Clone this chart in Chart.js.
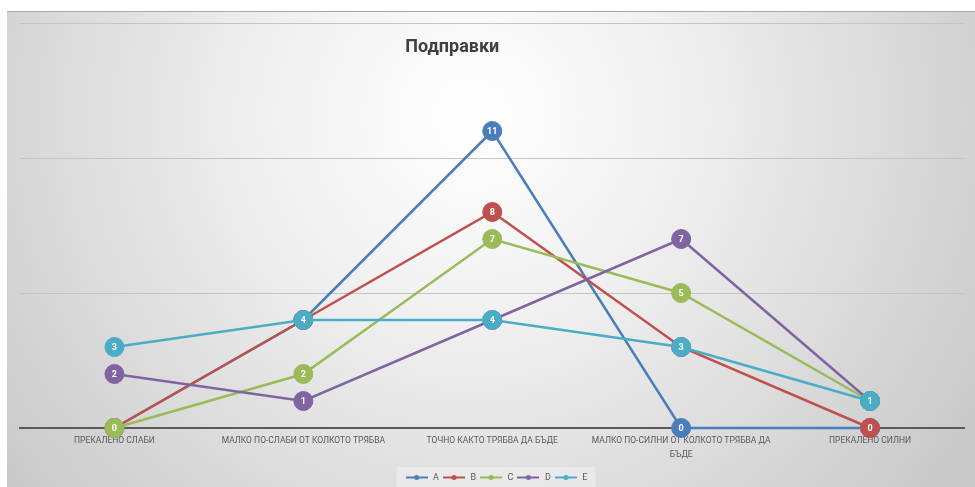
<!DOCTYPE html>
<html>
<head>
<meta charset="utf-8">
<script src="https://cdn.jsdelivr.net/npm/chart.js@4.4.1/dist/chart.umd.min.js"></script>
<style>
  html, body { margin: 0; padding: 0; background: #ffffff; overflow: hidden; }
  #wrap { position: absolute; left: 7px; top: 11px; width: 968px; height: 481px; }
</style>
</head>
<body>
<div id="wrap"><canvas id="chart"></canvas></div>
<script>
// Chart data
const categories = [
  "ПРЕКАЛЕНО СЛАБИ",
  "МАЛКО ПО-СЛАБИ ОТ КОЛКОТО ТРЯБВА",
  "ТОЧНО КАКТО ТРЯБВА ДА БЪДЕ",
  ["МАЛКО ПО-СИЛНИ ОТ КОЛКОТО ТРЯБВА ДА", "БЪДЕ"],
  "ПРЕКАЛЕНО СИЛНИ"
];
const seriesNames = ["A", "B", "C", "D", "E"];
const valuesA = [0, 4, 11, 0, 0];
const valuesB = [0, 4, 8, 3, 0];
const valuesC = [0, 2, 7, 5, 1];
const valuesD = [2, 1, 4, 7, 1];
const valuesE = [3, 4, 4, 3, 1];
const yTicks = [0, 5, 10, 15];
const chartTitle = "Подправки";

const colors = ["#4a7ebb", "#c0504d", "#9bbb59", "#8064a2", "#4bacc6"];
const allValues = [valuesA, valuesB, valuesC, valuesD, valuesE];

// small legend icons: line with a dot
function makeIcon(color) {
  const c = document.createElement("canvas");
  c.width = 22;
  c.height = 7;
  const g = c.getContext("2d");
  g.strokeStyle = color;
  g.lineWidth = 2;
  g.beginPath();
  g.moveTo(0, 3.5);
  g.lineTo(22, 3.5);
  g.stroke();
  g.fillStyle = color;
  g.beginPath();
  g.arc(11, 3.5, 2.5, 0, Math.PI * 2);
  g.fill();
  return c;
}
const icons = colors.map(makeIcon);

const bgPlugin = {
  id: "bg",
  beforeDraw(chart) {
    const ctx = chart.ctx;
    const w = chart.width, h = chart.height;
    ctx.save();
    const grad = ctx.createRadialGradient(w * 0.48, h * 0.22, 0, w * 0.48, h * 0.22, w * 0.62);
    grad.addColorStop(0, "#ffffff");
    grad.addColorStop(0.35, "#f0f0f0");
    grad.addColorStop(1, "#c8c8c8");
    ctx.fillStyle = grad;
    ctx.fillRect(0, 0, w, h);
    ctx.strokeStyle = "#a8a8a8";
    ctx.lineWidth = 1;
    ctx.beginPath();
    ctx.moveTo(0, 0.5);
    ctx.lineTo(w, 0.5);
    ctx.stroke();
    // faint legend backing
    const lg = chart.legend;
    if (lg && lg.legendHitBoxes && lg.legendHitBoxes.length) {
      const boxes = lg.legendHitBoxes;
      const x0 = boxes[0].left - 8;
      const x1 = boxes[boxes.length - 1].left + boxes[boxes.length - 1].width + 8;
      ctx.fillStyle = "rgba(255,255,255,0.3)";
      ctx.fillRect(x0, boxes[0].top - 6, x1 - x0, boxes[0].height + 12);
    }
    ctx.restore();
  },
  afterDraw(chart) {
    const ctx = chart.ctx;
    ctx.save();
    ctx.font = "bold 18px Roboto";
    ctx.fillStyle = "#404040";
    ctx.textAlign = "center";
    ctx.textBaseline = "middle";
    ctx.fillText(chartTitle, chart.width * 0.46, 36);
    ctx.restore();
  }
};

const labelPlugin = {
  id: "pointLabels",
  afterDatasetDraw(chart, args) {
    const ctx = chart.ctx;
    const data = chart.data.datasets[args.index].data;
    ctx.save();
    ctx.font = "bold 9px Roboto";
    ctx.fillStyle = "#ffffff";
    ctx.textAlign = "center";
    ctx.textBaseline = "middle";
    args.meta.data.forEach((pt, i) => {
      ctx.fillText(String(data[i]), pt.x, pt.y + 0.5);
    });
    ctx.restore();
  }
};

const datasets = seriesNames.map((name, i) => ({
  label: name,
  data: allValues[i],
  borderColor: colors[i],
  backgroundColor: colors[i],
  pointBackgroundColor: colors[i],
  pointBorderColor: colors[i],
  pointBorderWidth: 1,
  pointRadius: 9.5,
  pointHoverRadius: 9.5,
  borderWidth: 2.5,
  tension: 0,
  clip: false,
  order: seriesNames.length - i
}));

new Chart(document.getElementById("chart"), {
  type: "line",
  data: { labels: categories, datasets: datasets },
  options: {
    responsive: true,
    maintainAspectRatio: false,
    animation: false,
    layout: { padding: { left: 13, right: 3, top: 12, bottom: 0 } },
    plugins: {
      title: { display: false },
      tooltip: { enabled: false },
      legend: {
        display: true,
        position: "bottom",
        labels: {
          usePointStyle: true,
          pointStyleWidth: 24,
          boxHeight: 7,
          padding: 3,
          color: "#595959",
          font: { family: "Roboto", size: 9 },
          sort: (a, b) => a.datasetIndex - b.datasetIndex,
          generateLabels(chart) {
            const items = Chart.defaults.plugins.legend.labels.generateLabels(chart);
            items.forEach(it => { it.pointStyle = icons[it.datasetIndex]; });
            return items;
          }
        }
      }
    },
    scales: {
      x: {
        offset: true,
        grid: { display: false, drawTicks: false },
        border: { display: true, color: "#5a5a5a", width: 2 },
        ticks: {
          color: "#595959",
          font: { family: "Roboto", size: 8.5, lineHeight: 1.6 },
          padding: 6,
          maxRotation: 0,
          autoSkip: false
        },
        afterFit(scale) { scale.height = 42; }
      },
      y: {
        min: yTicks[0],
        max: yTicks[yTicks.length - 1],
        afterBuildTicks(scale) { scale.ticks = yTicks.map(v => ({ value: v })); },
        ticks: { display: false },
        border: { display: false },
        grid: {
          drawTicks: false,
          color: ctx => (ctx.tick && ctx.tick.value === 0 ? "rgba(0,0,0,0)" : "#c4c4c4"),
          lineWidth: 1
        }
      }
    }
  },
  plugins: [bgPlugin, labelPlugin]
});
</script>
</body>
</html>
